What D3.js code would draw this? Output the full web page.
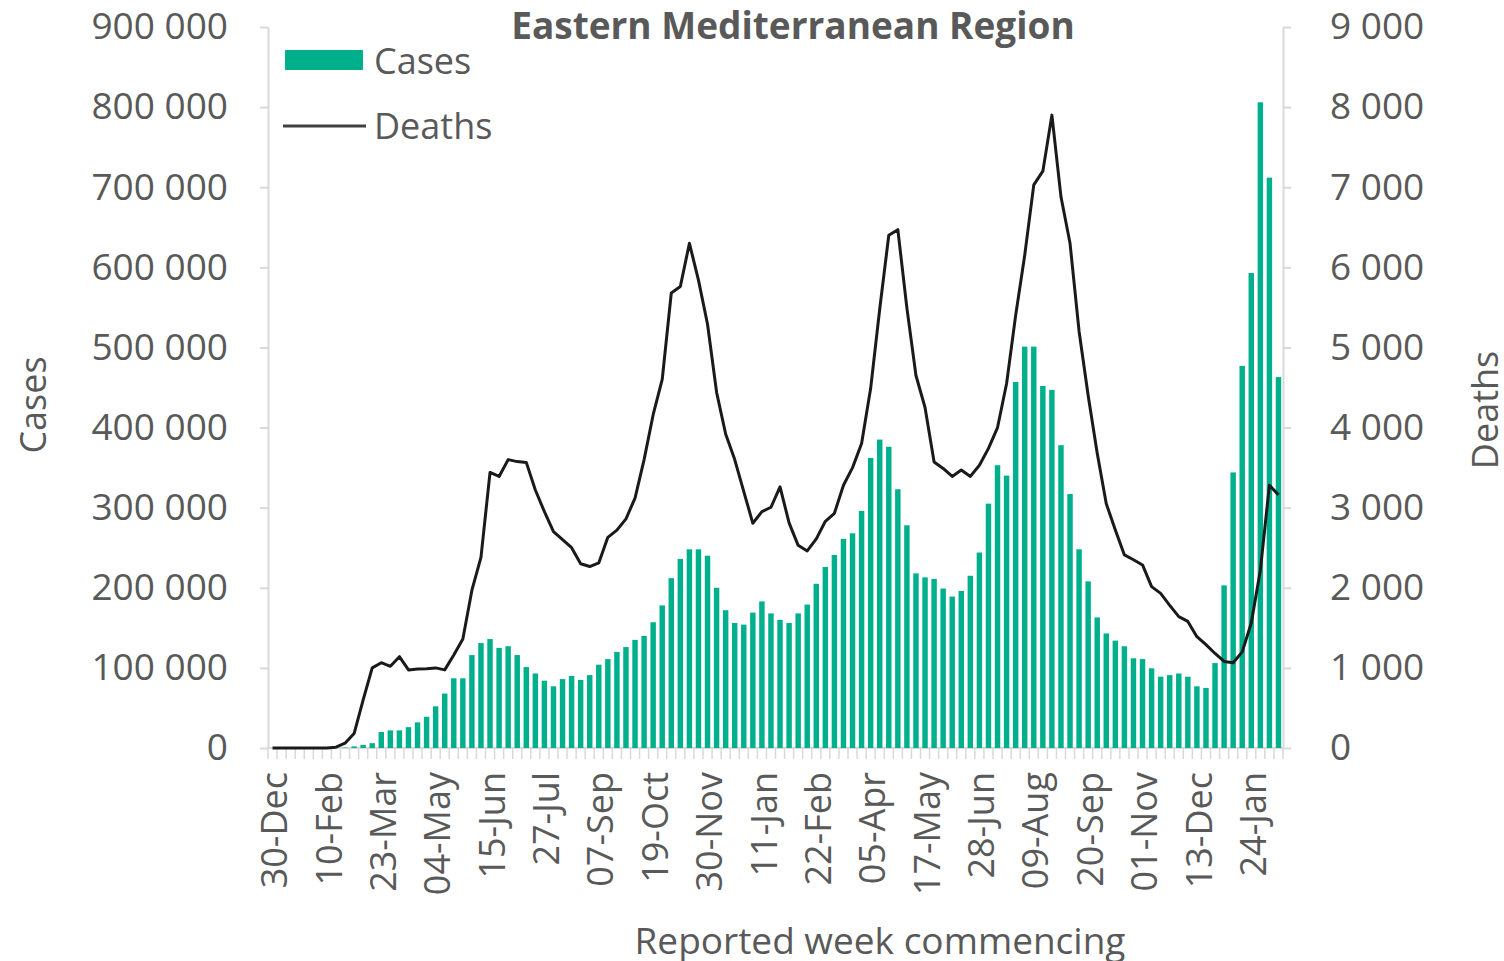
<!DOCTYPE html>
<html>
<head>
<meta charset="utf-8">
<script src="https://cdn.jsdelivr.net/npm/d3@7"></script>
<style>
  body { margin: 0; background: #fff; }
  text { font-family: 'Open Sans', sans-serif; fill: #595959; }
</style>
</head>
<body>
<div id="chart"></div>
<script>

// weekly data, first week commencing 30-Dec-2019
var startWeek = new Date(2019, 11, 30);

var tickLabels = ['30-Dec', '10-Feb', '23-Mar', '04-May', '15-Jun', '27-Jul', '07-Sep', '19-Oct', '30-Nov',
    '11-Jan', '22-Feb', '05-Apr', '17-May', '28-Jun', '09-Aug', '20-Sep', '01-Nov', '13-Dec', '24-Jan'];

var cases = [
    0, 0, 0, 0, 0, 0, 0, 0, 500, 2000,
    4000, 6000, 20000, 22000, 22000, 26000, 32000, 39000, 52000, 68000,
    87000, 87000, 116000, 131000, 136000, 125000, 127000, 116000, 101000, 93000,
    84000, 77000, 86000, 90000, 85000, 91000, 104000, 111000, 120000, 126000,
    135000, 140000, 157000, 178000, 212000, 236000, 248000, 248000, 240000, 200000,
    172000, 156000, 154000, 169000, 183000, 168000, 160000, 156000, 168000, 179000,
    205000, 226000, 241000, 261000, 268000, 296000, 362000, 385000, 376000, 323000,
    278000, 218000, 213000, 211000, 199000, 189000, 196000, 215000, 244000, 305000,
    353000, 340000, 457000, 501000, 501000, 452000, 447000, 378000, 317000, 248000,
    208000, 163000, 143000, 134000, 127000, 112000, 111000, 99500, 89000, 91000,
    93000, 89000, 77000, 75000, 106000, 203000, 344000, 477000, 593000, 806000,
    712000, 463000
];

var deaths = [
    0, 0, 0, 0, 0, 0, 0, 10, 60, 180,
    600, 1000, 1065, 1020, 1140, 975, 985, 990, 1000, 975,
    1160, 1360, 1970, 2380, 3440, 3390, 3600, 3575, 3565, 3220,
    2950, 2700, 2600, 2500, 2300, 2265, 2310, 2630, 2720, 2860,
    3120, 3600, 4160, 4600, 5680, 5760, 6300, 5840, 5290, 4440,
    3920, 3600, 3200, 2805, 2950, 3005, 3260, 2810, 2530, 2460,
    2610, 2830, 2930, 3280, 3500, 3800, 4490, 5480, 6400, 6470,
    5490, 4650, 4250, 3570, 3490, 3390, 3470, 3390, 3530, 3740,
    4000, 4550, 5400, 6150, 7030, 7200, 7900, 6880, 6300, 5200,
    4400, 3680, 3050, 2720, 2410, 2350, 2285, 2015, 1930, 1780,
    1640, 1580, 1390, 1290, 1180, 1080, 1065, 1200, 1560, 2220,
    3280, 3160
];

var weeks = cases.map((c, i) => d3.timeDay.offset(startWeek, 7 * i));

var width = 1504;
var height = 961;
var plotLeft = 268, plotRight = 1283, plotTop = 27, plotBottom = 748;

var fmt = d3.formatLocale({ decimal: '.', thousands: ' ', grouping: [3], currency: ['', ''] }).format(',d');

var svg = d3
    .select('#chart')
    .append('svg')
    .attr('width', width)
    .attr('height', height)
    .style('display', 'block');

var xScaler = d3.scaleBand().domain(d3.range(weeks.length)).range([plotLeft, plotRight]).paddingInner(0.4).paddingOuter(0.2);
var yCases = d3.scaleLinear().domain([0, 900000]).range([plotBottom, plotTop]);
var yDeaths = d3.scaleLinear().domain([0, 9000]).range([plotBottom, plotTop]);

// axes
var leftAxis = svg.append('g').attr('transform', `translate(${plotLeft},0)`)
    .call(d3.axisLeft(yCases).tickValues(d3.range(0, 900001, 100000)).tickSize(8).tickSizeOuter(0).tickPadding(32).tickFormat(fmt));

var rightAxis = svg.append('g').attr('transform', `translate(${plotRight},0)`)
    .call(d3.axisRight(yDeaths).tickValues(d3.range(0, 9001, 1000)).tickSize(8).tickSizeOuter(0).tickPadding(39).tickFormat(fmt));

[leftAxis, rightAxis].forEach(a => {
    a.select('.domain').attr('stroke', '#d9d9d9').attr('stroke-width', 2);
    a.selectAll('.tick line').attr('stroke', '#d9d9d9').attr('stroke-width', 2);
    a.selectAll('.tick text').style('font-size', '37px').attr('fill', '#595959').attr('font-family', null);
});

var step = xScaler.step();
var xAxis = svg.append('g');
xAxis.append('line')
    .attr('x1', plotLeft).attr('x2', plotRight)
    .attr('y1', plotBottom).attr('y2', plotBottom)
    .attr('stroke', '#d9d9d9').attr('stroke-width', 2);

xAxis.selectAll('.xtick')
    .data(d3.range(weeks.length + 1))
    .enter()
    .append('line')
    .attr('class', 'xtick')
    .attr('x1', i => i < weeks.length ? xScaler(i) - step * 0.2 : plotRight)
    .attr('x2', i => i < weeks.length ? xScaler(i) - step * 0.2 : plotRight)
    .attr('y1', plotBottom)
    .attr('y2', plotBottom + 11)
    .attr('stroke', '#d9d9d9')
    .attr('stroke-width', 1.5);

xAxis.selectAll('.xlabel')
    .data(tickLabels)
    .enter()
    .append('text')
    .attr('class', 'xlabel')
    .text(d => d)
    .attr('text-anchor', 'end')
    .attr('dy', '0.35em')
    .style('font-size', '36px')
    .attr('transform', (d, k) => `translate(${xScaler(k * 6) + xScaler.bandwidth() / 2 + 2},772)rotate(-90)`);

// bars
svg.append('g')
    .selectAll('rect')
    .data(cases)
    .enter()
    .append('rect')
    .attr('x', (d, i) => xScaler(i))
    .attr('width', xScaler.bandwidth())
    .attr('y', d => yCases(d))
    .attr('height', d => plotBottom - yCases(d))
    .attr('fill', '#00b08c');

// deaths line
var line = d3.line()
    .x((d, i) => xScaler(i) + xScaler.bandwidth() / 2)
    .y(d => yDeaths(d));

svg.append('path')
    .datum(deaths)
    .attr('d', line)
    .attr('fill', 'none')
    .attr('stroke', '#1a1a1a')
    .attr('stroke-width', 3)
    .attr('stroke-linejoin', 'round');

// titles
svg.append('text')
    .text('Eastern Mediterranean Region')
    .attr('x', 793).attr('y', 26).attr('dy', '0.35em')
    .attr('text-anchor', 'middle')
    .style('font-size', '37px')
    .style('font-weight', 'bold');

svg.append('text')
    .text('Reported week commencing')
    .attr('x', 880).attr('y', 941).attr('dy', '0.35em')
    .attr('text-anchor', 'middle')
    .style('font-size', '37px');

svg.append('text')
    .text('Cases')
    .attr('transform', 'translate(33,405)rotate(-90)')
    .attr('dy', '0.35em')
    .attr('text-anchor', 'middle')
    .style('font-size', '36px');

svg.append('text')
    .text('Deaths')
    .attr('transform', 'translate(1485,410)rotate(-90)')
    .attr('dy', '0.35em')
    .attr('text-anchor', 'middle')
    .style('font-size', '36px');

// legend
var legend = svg.append('g');
legend.append('rect')
    .attr('x', 285).attr('y', 50).attr('width', 78).attr('height', 20)
    .attr('fill', '#00b08c');
legend.append('text')
    .text('Cases')
    .attr('x', 374).attr('y', 61).attr('dy', '0.35em')
    .style('font-size', '36px');
legend.append('line')
    .attr('x1', 283).attr('x2', 366).attr('y1', 126).attr('y2', 126)
    .attr('stroke', '#404040').attr('stroke-width', 3);
legend.append('text')
    .text('Deaths')
    .attr('x', 374).attr('y', 126).attr('dy', '0.35em')
    .style('font-size', '36px');

</script>
</body>
</html>
